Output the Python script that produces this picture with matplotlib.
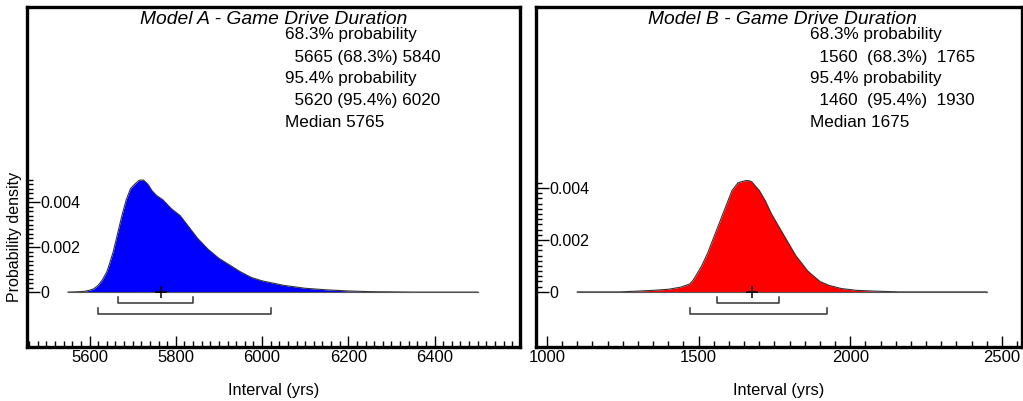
"""
OxCal style interval plots for the two game drive models
"""
import numpy as np
import matplotlib.pyplot as plt
from matplotlib.ticker import FixedLocator, MultipleLocator
import matplotlib.transforms as mtransforms

plt.rcParams['font.family'] = ['Liberation Sans', 'DejaVu Sans']

# Model A - density
a_x = [5550, 5580, 5590, 5600, 5610, 5620, 5630, 5640, 5647, 5655, 5665, 5675,
       5685, 5695, 5705, 5715, 5725, 5735, 5745, 5755, 5770, 5790, 5810, 5830,
       5850, 5875, 5900, 5925, 5950, 5975, 6000, 6050, 6100, 6150, 6200, 6250,
       6300, 6350, 6500]
a_density = [0, 0.00002, 0.00004, 0.00008, 0.00015, 0.0003, 0.00055, 0.0009,
             0.0013, 0.0018, 0.0026, 0.0034, 0.0041, 0.0046, 0.0048, 0.00497,
             0.00498, 0.0048, 0.0045, 0.0043, 0.0041, 0.0037, 0.0034, 0.0029,
             0.0024, 0.0019, 0.0015, 0.0012, 0.0009, 0.00065, 0.0005, 0.0003,
             0.00017, 0.0001, 0.00005, 0.00002, 0.00001, 0, 0]
a_median = 5765
a_range68 = (5665, 5840)
a_range95 = (5620, 6020)

# Model B
b_x = [1100, 1240, 1300, 1350, 1400, 1440, 1470, 1480, 1490, 1500, 1510, 1520,
       1530, 1550, 1570, 1590, 1610, 1630, 1645, 1655, 1665, 1675, 1685, 1700,
       1720, 1740, 1760, 1780, 1800, 1820, 1840, 1860, 1880, 1900, 1930, 1970,
       2020, 2080, 2160, 2450]
b_density = [0, 0, 0.00003, 0.00006, 0.0001, 0.00018, 0.0003, 0.00042, 0.0006,
             0.0008, 0.001, 0.00125, 0.0015, 0.0021, 0.0027, 0.0033, 0.0039,
             0.0042, 0.00425, 0.00428, 0.00428, 0.00424, 0.0041, 0.0039,
             0.0035, 0.003, 0.0026, 0.0022, 0.0018, 0.0014, 0.0011, 0.0008,
             0.0006, 0.0004, 0.00025, 0.00013, 0.00006, 0.00003, 0, 0]
b_median = 1675
b_range68 = (1560, 1765)
b_range95 = (1460, 1930)
b_bracket95 = (1472, 1922)   # where the lower bracket is actually drawn

y_ticks = [0, 0.002, 0.004]
y_ticklabels = ['0', '0.002', '0.004']


def stats_lines(r68, r95, median, sep=' '):
    return ['68.3% probability',
            '  %d%s(68.3%%)%s%d' % (r68[0], sep, sep, r68[1]),
            '95.4% probability',
            '  %d%s(95.4%%)%s%d' % (r95[0], sep, sep, r95[1]),
            'Median %d' % median]


def draw_panel(ax, x, dens, color, median, r68, r95, title, lines,
               xlim, ylim, major, minor, top_tick, text_x):
    ax.fill_between(x, dens, 0, color=color, lw=0)
    ax.plot(x, dens, color='#333333', lw=0.8)
    ax.plot([x[0], x[-1]], [0, 0], color='#555555', lw=0.8)

    trans = mtransforms.blended_transform_factory(ax.transData, ax.transAxes)
    ax.plot([r68[0], r68[0], r68[1], r68[1]], [0.147, 0.129, 0.129, 0.147],
            color='#333333', lw=1.1, transform=trans)
    ax.plot([r95[0], r95[0], r95[1], r95[1]], [0.114, 0.097, 0.097, 0.114],
            color='#333333', lw=1.1, transform=trans)
    ax.plot([median], [0], marker='+', color='black', ms=8, mew=1.1)

    ax.set_xlim(*xlim)
    ax.set_ylim(*ylim)
    ax.xaxis.set_major_locator(MultipleLocator(major))
    ax.xaxis.set_minor_locator(MultipleLocator(minor))
    ax.tick_params(axis='x', which='major', direction='in', length=8, width=1,
                   labelsize=12, pad=2)
    ax.tick_params(axis='x', which='minor', direction='in', length=4, width=1)

    ax.yaxis.set_major_locator(FixedLocator(y_ticks))
    ax.yaxis.set_minor_locator(FixedLocator(np.arange(0, top_tick, 0.0002)))
    ax.set_yticklabels(y_ticklabels, ha='left')
    ax.tick_params(axis='y', which='major', direction='in', length=9, width=1,
                   labelsize=11.5, pad=-9.5)
    ax.tick_params(axis='y', which='minor', direction='in', length=4, width=1)

    for s in ax.spines.values():
        s.set_linewidth(2.4)

    ax.text(text_x[0], 0.962, title, transform=ax.transAxes,
            fontsize=13.9, style='italic', ha='left', va='center')
    ys = [0.918, 0.851, 0.789, 0.726, 0.659]
    for t, yy in zip(lines, ys):
        ax.text(text_x[1], yy, t, transform=ax.transAxes, fontsize=12.3,
                ha='left', va='center')
    ax.set_xlabel('Interval (yrs)', fontsize=11.8, labelpad=13)


fig = plt.figure(figsize=(10.23, 4.01), dpi=100)
ax1 = fig.add_axes([27 / 1023, 54 / 401, 493 / 1023, 340 / 401])
ax2 = fig.add_axes([536 / 1023, 54 / 401, 486 / 1023, 340 / 401])

draw_panel(ax1, a_x, a_density, '#0000ff', a_median, a_range68, a_range95,
           'Model A - Game Drive Duration',
           stats_lines(a_range68, a_range95, a_median),
           (5455, 6598), (-0.00244, 0.01267), 200, 20, 0.0051, (0.229, 0.523))
draw_panel(ax2, b_x, b_density, '#ff0000', b_median, b_range68, b_bracket95,
           'Model B - Game Drive Duration',
           stats_lines(b_range68, b_range95, b_median, sep='  '),
           (964, 2566), (-0.00212, 0.01096), 500, 50, 0.0043, (0.23, 0.564))

fig.text(15 / 1023, 1 - 237 / 401, 'Probability density', rotation=90,
         fontsize=11.5, ha='center', va='center')

fig.savefig('out.png', dpi=100)
